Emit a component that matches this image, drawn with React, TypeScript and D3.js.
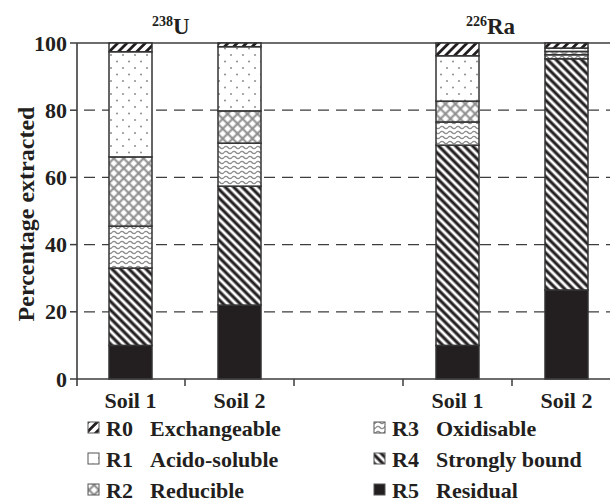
import React, { useEffect, useRef } from 'react'
import * as d3 from 'd3'

// fractions, top of stack first
const FRACTIONS = ['R0', 'R1', 'R2', 'R3', 'R4', 'R5']
const FRACTION_NAMES = ['Exchangeable', 'Acido-soluble', 'Reducible', 'Oxidisable', 'Strongly bound', 'Residual']

const BAR_KEYS = ['U-Soil 1', 'U-Soil 2', 'gap', 'Ra-Soil 1', 'Ra-Soil 2']
const BAR_LABELS = ['Soil 1', 'Soil 2', '', 'Soil 1', 'Soil 2']

// % extracted, R0..R5
const U238_SOIL1 = [2.6, 31.3, 20.6, 12.5, 23.0, 10.0]
const U238_SOIL2 = [1.1, 19.1, 9.6, 12.8, 35.4, 22.0]
const RA226_SOIL1 = [3.8, 13.5, 6.2, 6.9, 59.6, 10.0]
const RA226_SOIL2 = [1.5, 1.0, 1.0, 1.2, 68.8, 26.5]

const Y_TICKS = [0, 20, 40, 60, 80, 100]

const INK = '#231f20'
const AXIS = '#3d3d3d'
const GREY = '#8c8c8c'

const W = 610
const H = 503

export default function App() {
  const svgRef = useRef<SVGSVGElement | null>(null)

  useEffect(() => {
    if (!svgRef.current) return
    const svg = d3.select(svgRef.current)
    svg.selectAll('*').remove()

    const left = 77
    const x = d3.scaleBand().domain(BAR_KEYS).range([76, 621]).paddingInner(0).paddingOuter(0)
    const y = d3.scaleLinear().domain([0, 100]).range([379, 43])
    const barW = 43
    const font = '"Liberation Serif", "Times New Roman", serif'

    // ---- patterns
    const defs = svg.append('defs')
    const linePattern = (id: string, size: number, rot: number, color: string, sw: number) => {
      const p = defs.append('pattern').attr('id', id).attr('patternUnits', 'userSpaceOnUse')
        .attr('width', size).attr('height', size).attr('patternTransform', `rotate(${rot})`)
      p.append('rect').attr('width', size).attr('height', size).attr('fill', '#fff')
      p.append('line').attr('x1', size / 2).attr('x2', size / 2).attr('y1', 0).attr('y2', size)
        .attr('stroke', color).attr('stroke-width', sw)
      return p
    }
    linePattern('p-r0', 6.5, 45, INK, 2.8)
    const r1 = defs.append('pattern').attr('id', 'p-r1').attr('patternUnits', 'userSpaceOnUse')
      .attr('width', 12).attr('height', 13)
    r1.append('rect').attr('width', 12).attr('height', 13).attr('fill', '#fff')
    r1.append('circle').attr('cx', 3).attr('cy', 3).attr('r', 1).attr('fill', GREY)
    r1.append('circle').attr('cx', 9).attr('cy', 9.5).attr('r', 1).attr('fill', GREY)
    const r2 = linePattern('p-r2', 7, 45, GREY, 2)
    r2.append('line').attr('x1', 0).attr('x2', 7).attr('y1', 3.5).attr('y2', 3.5)
      .attr('stroke', GREY).attr('stroke-width', 2)
    const r3 = defs.append('pattern').attr('id', 'p-r3').attr('patternUnits', 'userSpaceOnUse')
      .attr('width', 8).attr('height', 5)
    r3.append('rect').attr('width', 8).attr('height', 5).attr('fill', '#fff')
    r3.append('path').attr('d', 'M0 2.5 Q2 0.3 4 2.5 T8 2.5').attr('fill', 'none')
      .attr('stroke', GREY).attr('stroke-width', 1.4)
    linePattern('p-r4', 6, -45, INK, 3.1)
    const fills: Record<string, string> = {
      R0: 'url(#p-r0)', R1: 'url(#p-r1)', R2: 'url(#p-r2)', R3: 'url(#p-r3)', R4: 'url(#p-r4)', R5: INK,
    }

    // ---- grid + frame
    svg.append('g').selectAll('line')
      .data(Y_TICKS.filter(t => t > 0 && t < 100))
      .join('line')
      .attr('x1', left).attr('x2', W).attr('y1', d => y(d)).attr('y2', d => y(d))
      .attr('stroke', AXIS).attr('stroke-width', 1.3).attr('stroke-dasharray', '11,7').attr('stroke-dashoffset', 11)
    svg.append('line').attr('x1', left).attr('x2', W).attr('y1', y(100)).attr('y2', y(100))
      .attr('stroke', AXIS).attr('stroke-width', 1.5)

    // ---- stacked bars
    const rows = [U238_SOIL1, U238_SOIL2, null, RA226_SOIL1, RA226_SOIL2]
    const table = rows.map((r, i) => {
      const o: any = { key: BAR_KEYS[i] }
      FRACTIONS.forEach((f, j) => { o[f] = r ? r[j] : 0 })
      return o
    })
    const stack = d3.stack<any>().keys([...FRACTIONS].reverse())
    const series = stack(table)
    const bars = svg.append('g')
    series.forEach(s => {
      bars.append('g').selectAll('rect')
        .data(s.filter(d => d[1] - d[0] > 0))
        .join('rect')
        .attr('x', d => (x(d.data.key) as number) + x.bandwidth() / 2 - barW / 2)
        .attr('width', barW)
        .attr('y', d => y(d[1]))
        .attr('height', d => y(d[0]) - y(d[1]))
        .attr('fill', fills[s.key])
        .attr('stroke', '#333').attr('stroke-width', 1.5)
    })

    // ---- axes
    svg.append('line').attr('x1', left).attr('x2', left).attr('y1', y(100)).attr('y2', 386)
      .attr('stroke', AXIS).attr('stroke-width', 1.6)
    svg.append('line').attr('x1', left).attr('x2', W).attr('y1', y(0)).attr('y2', y(0))
      .attr('stroke', AXIS).attr('stroke-width', 1.6)
    const yt = svg.append('g')
    Y_TICKS.forEach(t => {
      yt.append('line').attr('x1', 70).attr('x2', left).attr('y1', y(t)).attr('y2', y(t))
        .attr('stroke', AXIS).attr('stroke-width', 1.5)
      yt.append('text').attr('x', 67).attr('y', y(t) + 7.5).attr('text-anchor', 'end')
        .attr('font-family', font).attr('font-weight', 'bold').attr('font-size', 22).attr('fill', INK)
        .text(t)
    })
    const xt = svg.append('g')
    BAR_KEYS.slice(1).forEach(k => {
      const bx = x(k) as number
      xt.append('line').attr('x1', bx).attr('x2', bx).attr('y1', y(0)).attr('y2', y(0) + 7)
        .attr('stroke', AXIS).attr('stroke-width', 1.5)
    })
    BAR_KEYS.forEach((k, i) => {
      if (!BAR_LABELS[i]) return
      xt.append('text').attr('x', (x(k) as number) + x.bandwidth() / 2).attr('y', 408)
        .attr('text-anchor', 'middle').attr('font-family', font).attr('font-weight', 'bold')
        .attr('font-size', 22).attr('fill', INK).text(BAR_LABELS[i])
    })

    svg.append('text').attr('transform', `translate(34,${(y(0) + y(100)) / 2 + 3}) rotate(-90)`)
      .attr('text-anchor', 'middle').attr('font-family', font).attr('font-weight', 'bold')
      .attr('font-size', 24).attr('fill', INK).text('Percentage extracted')

    // ---- element titles
    const title = (tx: number, sup: string, el: string) => {
      const t = svg.append('text').attr('x', tx).attr('y', 34).attr('font-family', font)
        .attr('font-weight', 'bold').attr('fill', INK)
      t.append('tspan').attr('font-size', 14).attr('dy', -8).text(sup)
      t.append('tspan').attr('font-size', 23).attr('dy', 8).text(el)
    }
    title(152, '238', 'U')
    title(466, '226', 'Ra')

    // ---- legend
    const lg = svg.append('g')
    FRACTIONS.forEach((f, i) => {
      const col = Math.floor(i / 3)
      const row = i % 3
      const lx = 88 + col * 286
      const ly = 428 + row * 31
      lg.append('rect').attr('x', lx).attr('y', ly - 6).attr('width', 11).attr('height', 11)
        .attr('fill', fills[f]).attr('stroke', '#555').attr('stroke-width', 1)
      lg.append('text').attr('x', lx + 18).attr('y', ly + 7.5).attr('font-family', font)
        .attr('font-weight', 'bold').attr('font-size', 22).attr('fill', INK).text(f)
      lg.append('text').attr('x', lx + 62).attr('y', ly + 7.5).attr('font-family', font)
        .attr('font-weight', 'bold').attr('font-size', 22).attr('fill', INK).text(FRACTION_NAMES[i])
    })
  }, [])

  return (
    <svg ref={svgRef} width={W} height={H}
      style={{ display: 'block', position: 'absolute', left: 0, top: 0, background: '#fff' }} />
  )
}
